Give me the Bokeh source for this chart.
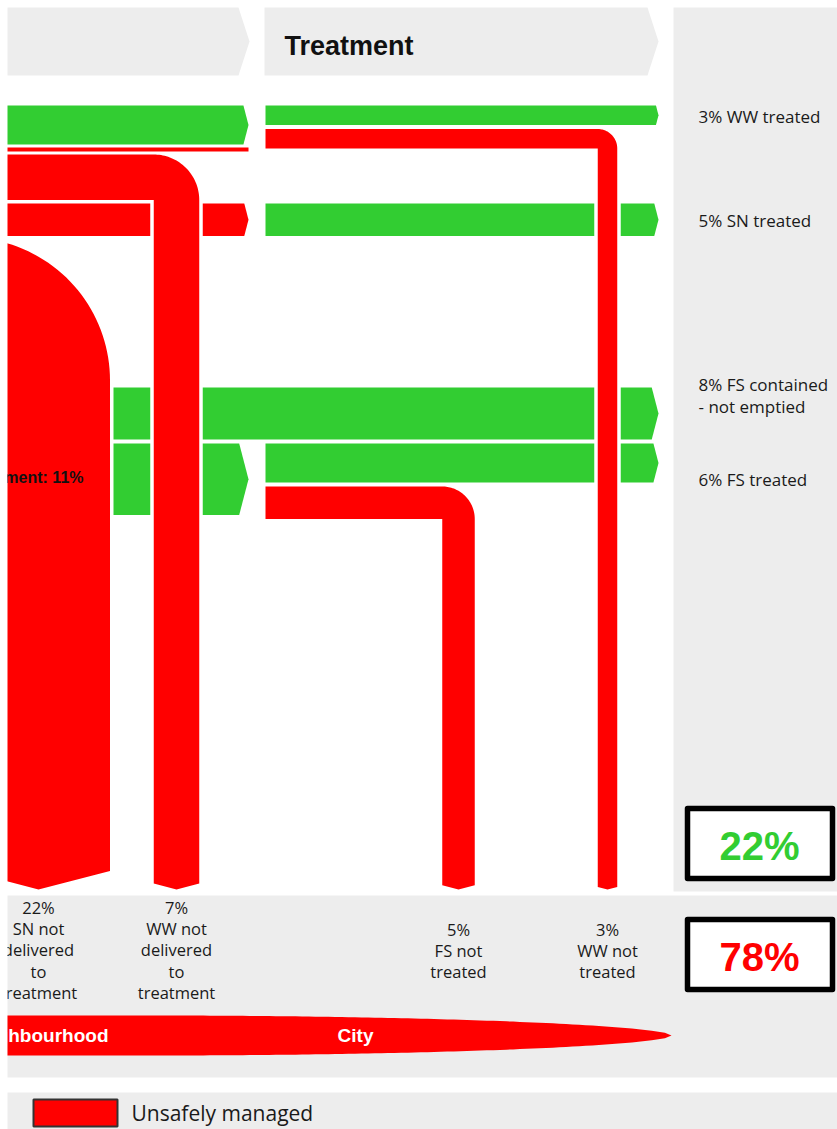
import numpy as np
from bokeh.plotting import figure
from bokeh.models import Range1d
from bokeh.core.properties import value
from bokeh.embed import file_html
from bokeh.resources import INLINE

# ---- flow shares (% of total excreta) ----
ww_treated = 3
ww_not_treated = 3
ww_not_delivered = 7
ww_minor = 0.6
sn_treated = 5
sn_not_delivered = 22
fs_contained_not_emptied = 8
fs_treated = 6
fs_not_treated = 5
fs_emptied = fs_treated + fs_not_treated

safely_managed = 22
unsafely_managed = 78

stage_names = ["Treatment"]
zone_names = ["Neighbourhood", "City"]
legend_names = ["Unsafely managed"]

outcome_labels = [
    f"{ww_treated}% WW treated",
    f"{sn_treated}% SN treated",
    f"{fs_contained_not_emptied}% FS contained\n- not emptied",
    f"{fs_treated}% FS treated",
]
loss_labels = [
    f"{sn_not_delivered}%\nSN not\ndelivered\nto\ntreatment",
    f"{ww_not_delivered}%\nWW not\ndelivered\nto\ntreatment",
    f"{fs_not_treated}%\nFS not\ntreated",
    f"{ww_not_treated}%\nWW not\ntreated",
]
emptied_label = f"FS emptied from containment: {fs_emptied}%"

# ---- drawing constants ----
S = 6.5            # pixels per percent of flow
TIP = 0.13         # arrow-tip depth relative to flow width
GAP = 3.5          # white gap where a pipe crosses a row
GREEN = "#32CD32"
RED = "#FF0000"
GREY = "#EDEDED"
TEXT = "#1a1a1a"
XL = -80           # rows entering from beyond the left edge
STAGE1_TIP = 248
STAGE2_X0 = 265
STAGE2_TIP = 658
PIPE_TIP_Y = 889

W, H = 837, 1129
p = figure(width=W, height=H, x_range=Range1d(7, W), y_range=Range1d(H, 0),
           output_backend="svg", toolbar_location=None,
           x_axis_location=None, y_axis_location=None,
           min_border_left=7, min_border_right=0, min_border_top=0, min_border_bottom=0)
p.grid.visible = False
p.outline_line_color = None
p.background_fill_color = "white"
p.border_fill_color = "white"


def arrow(x0, xtip, y0, h, tip=True):
    if tip:
        xe = xtip - TIP * h
        return [x0, xe, xtip, xe, x0], [y0, y0, y0 + h / 2, y0 + h, y0 + h]
    return [x0, xtip, xtip, x0], [y0, y0, y0 + h, y0 + h]


def split_row(x0, xtip, y0, h, cuts, tip=True):
    segs = []
    start = x0
    for (a, b) in sorted(cuts):
        segs.append(arrow(start, a - GAP, y0, h, tip=False))
        start = b + GAP
    segs.append(arrow(start, xtip, y0, h, tip=tip))
    return segs


def pipe(x_start, y_top, cx, w, n=40):
    xl, xr = cx - w / 2, cx + w / 2
    yb = y_top + w
    a = np.linspace(-np.pi / 2, 0, n)
    ax = list(xl + w * np.cos(a))
    ay = list(yb + w * np.sin(a))
    side = PIPE_TIP_Y - TIP * w
    xs = [x_start] + ax + [xr, cx, xl, xl, x_start]
    ys = [y_top] + ay + [side, PIPE_TIP_Y, side, yb, yb]
    return xs, ys


def add(shapes, color):
    p.patches([s[0] for s in shapes], [s[1] for s in shapes],
              fill_color=color, line_color=None)


# ---- background panels ----
add([([XL, 238, 249, 238, XL], [7, 7, 41, 75, 75]),
     ([264, 647, 658, 647, 264], [7, 7, 41, 75, 75])], GREY)
p.quad(left=[673], right=[W + 5], top=[7], bottom=[891], fill_color=GREY, line_color=None)
p.quad(left=[XL], right=[W + 5], top=[895], bottom=[1077], fill_color=GREY, line_color=None)
p.quad(left=[XL], right=[W + 5], top=[1092], bottom=[H + 5], fill_color=GREY, line_color=None)

# ---- pipe geometry ----
CX_SNND, CX_WWND, CX_FSNT, CX_WWNT = 38, 176, 458, 607
w_snnd = sn_not_delivered * S
w_wwnd = ww_not_delivered * S
w_fsnt = fs_not_treated * S
w_wwnt = ww_not_treated * S
cut_wwnd = (CX_WWND - w_wwnd / 2, CX_WWND + w_wwnd / 2)
cut_wwnt = (CX_WWNT - w_wwnt / 2, CX_WWNT + w_wwnt / 2)
snnd_right = CX_SNND + w_snnd / 2

Y_WW, Y_WWND, Y_SN, Y_SNND, Y_FSC, Y_FS = 105, 154, 203, 237, 387, 443
y_minor = Y_WW + (ww_treated + ww_not_treated) * S + 3
y_wwnt = Y_WW + ww_treated * S + 4
y_fsnt = Y_FS + fs_treated * S + 4

green_shapes = []
red_shapes = []

# conveyance stage (left)
green_shapes.append(arrow(XL, STAGE1_TIP, Y_WW, (ww_treated + ww_not_treated) * S))
red_shapes.append(arrow(XL, STAGE1_TIP, y_minor, ww_minor * S, tip=False))
red_shapes += split_row(XL, STAGE1_TIP, Y_SN, sn_treated * S, [cut_wwnd])
green_shapes += split_row(snnd_right + GAP, STAGE2_TIP, Y_FSC, fs_contained_not_emptied * S,
                          [cut_wwnd, cut_wwnt])
green_shapes += split_row(snnd_right + GAP, STAGE1_TIP, Y_FS, fs_emptied * S, [cut_wwnd])

# treatment stage (right)
green_shapes.append(arrow(STAGE2_X0, STAGE2_TIP, Y_WW, ww_treated * S))
green_shapes += split_row(STAGE2_X0, STAGE2_TIP, Y_SN, sn_treated * S, [cut_wwnt])
green_shapes += split_row(STAGE2_X0, STAGE2_TIP, Y_FS, fs_treated * S, [cut_wwnt])

# loss pipes turning down to the bottom
red_shapes.append(pipe(XL, Y_SNND, CX_SNND, w_snnd))
red_shapes.append(pipe(XL, Y_WWND, CX_WWND, w_wwnd))
red_shapes.append(pipe(STAGE2_X0, y_fsnt, CX_FSNT, w_fsnt))
red_shapes.append(pipe(STAGE2_X0, y_wwnt, CX_WWNT, w_wwnt))

add(green_shapes, GREEN)
add(red_shapes, RED)

# ---- zone band (tapering toward the city) ----
yc, half = 1035, 20
tx = np.linspace(150, 671, 80)
t = (tx - 150) / (671 - 150)
hh = half * np.clip(1 - t ** 2, 0, None) ** 0.55
band_x = [XL] + list(tx) + list(tx[::-1]) + [XL]
band_y = [yc - half] + list(yc - hh) + list((yc + hh)[::-1]) + [yc + half]
add([(band_x, band_y)], RED)
p.text(x=[108], y=[yc], text=[zone_names[0]], text_align="right", text_baseline="middle",
       text_color="white", text_font=value("Liberation Sans"), text_font_style="bold",
       text_font_size="19px")
p.text(x=[355], y=[yc], text=[zone_names[1]], text_align="center", text_baseline="middle",
       text_color="white", text_font=value("Liberation Sans"), text_font_style="bold",
       text_font_size="19px")

# ---- header ----
p.text(x=[284], y=[45], text=[stage_names[0]], text_align="left", text_baseline="middle",
       text_color="#111111", text_font=value("Liberation Sans"), text_font_style="bold",
       text_font_size="27px")

# ---- labels ----
LAB_FONT = value("Open Sans")


def multiline(x, y_first, label, lh, size, align="left", color=TEXT, style="normal"):
    lines = label.split("\n")
    p.text(x=[x] * len(lines), y=[y_first + i * lh for i in range(len(lines))], text=lines,
           text_align=align, text_baseline="middle", text_color=color,
           text_font=LAB_FONT, text_font_size=size, text_font_style=style)


for lab, yy in zip(outcome_labels, [116, 220, 384, 479]):
    multiline(698, yy, lab, 22, "17px")

for lab, xx, yy in zip(loss_labels, [38, 176, 458, 607], [907, 907, 929, 929]):
    multiline(xx, yy, lab, 21.2, "16.5px", align="center")

p.text(x=[83], y=[477], text=[emptied_label], text_align="right", text_baseline="middle",
       text_color="#111111", text_font=value("Liberation Sans"), text_font_style="bold",
       text_font_size="16px")

# ---- summary boxes ----
p.quad(left=[687, 687], right=[832, 832], top=[808, 919], bottom=[878, 989],
       fill_color="white", line_color="black", line_width=5.5, line_join="round")
p.text(x=[759, 759], y=[845, 956], text=[f"{safely_managed}%", f"{unsafely_managed}%"],
       text_align="center", text_baseline="middle", text_color=[GREEN, RED],
       text_font=value("Liberation Sans"), text_font_style="bold", text_font_size="40px")

# ---- legend ----
p.quad(left=[33], right=[117], top=[1099], bottom=[1126], fill_color=RED,
       line_color="#333333", line_width=2)
p.text(x=[131], y=[1112], text=[legend_names[0]], text_align="left", text_baseline="middle",
       text_color=TEXT, text_font=LAB_FONT, text_font_size="21px")

open("out.html", "w").write(file_html(p, INLINE))
